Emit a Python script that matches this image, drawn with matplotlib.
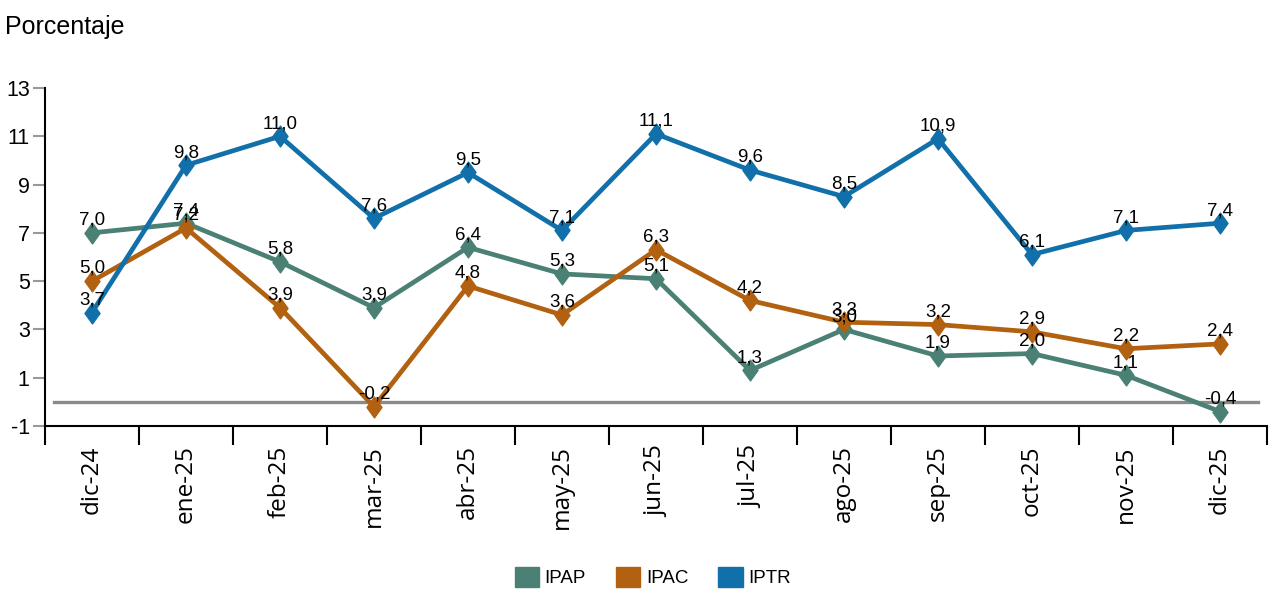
import matplotlib
matplotlib.use("Agg")
import matplotlib.pyplot as plt
from matplotlib.patches import Patch
from matplotlib.path import Path
import numpy as np

months = ["dic-24", "ene-25", "feb-25", "mar-25", "abr-25", "may-25", "jun-25",
          "jul-25", "ago-25", "sep-25", "oct-25", "nov-25", "dic-25"]
ipap = [7.0, 7.4, 5.8, 3.9, 6.4, 5.3, 5.1, 1.3, 3.0, 1.9, 2.0, 1.1, -0.4]
ipac = [5.0, 7.2, 3.9, -0.2, 4.8, 3.6, 6.3, 4.2, 3.3, 3.2, 2.9, 2.2, 2.4]
iptr = [3.7, 9.8, 11.0, 7.6, 9.5, 7.1, 11.1, 9.6, 8.5, 10.9, 6.1, 7.1, 7.4]
series_names = ["IPAP", "IPAC", "IPTR"]
colors = ["#4b8075", "#b1610f", "#1170a9"]
yticks = [-1, 1, 3, 5, 7, 9, 11, 13]

plt.rcParams['font.family'] = ['Liberation Sans', 'DejaVu Sans']

diamond = Path([(0, 1), (0.72, 0), (0, -1), (-0.72, 0), (0, 1)],
               [Path.MOVETO, Path.LINETO, Path.LINETO, Path.LINETO, Path.CLOSEPOLY])

fig = plt.figure(figsize=(12.8, 5.94), dpi=100)
ax = fig.add_axes([45/1280, 1-426/594, (1267-45)/1280, (426-88)/594])

x = np.arange(len(months)) + 0.5
ax.plot([0.1, 12.9], [0, 0], color="#8a8a8a", lw=2.4, zorder=1)

for vals, c in zip([ipap, ipac, iptr], colors):
    ax.plot(x, vals, color=c, lw=3.4, marker=diamond, markersize=15, zorder=3)
    for xi, v in zip(x, vals):
        ax.annotate(f"{v:.1f}".replace(".", ","), (xi, v), xytext=(0, 3),
                    textcoords="offset points", ha="center", va="bottom",
                    fontsize=13.5, color="black", zorder=5)

ax.set_xlim(0, 13)
ax.set_ylim(-1, 13)
ax.set_yticks(yticks)
ax.set_yticklabels([str(t) for t in yticks], fontsize=15.5)
ax.tick_params(axis="y", length=9, width=1.5, color="#999999", pad=2)

ax.set_xticks(x)
ax.set_xticklabels(months, rotation=90, fontsize=17.5, va="top", family="Open Sans")
ax.set_xticks(np.arange(0, 14), minor=True)
ax.tick_params(axis="x", which="major", length=0, pad=14)
ax.tick_params(axis="x", which="minor", length=14, width=1.5, color="black")

for s in ["top", "right"]:
    ax.spines[s].set_visible(False)
ax.spines["left"].set_linewidth(1.5)
ax.spines["bottom"].set_linewidth(1.5)

fig.text(5/1280, 1-27/594, "Porcentaje", fontsize=18, va="center", ha="left")

handles = [Patch(facecolor=c, edgecolor=c) for c in colors]
fig.legend(handles, series_names, loc="center", bbox_to_anchor=(0.51, 1-577/594),
           ncol=3, frameon=False, fontsize=13.5, handlelength=1.3, handleheight=1.3,
           columnspacing=1.6, handletextpad=0.3)

fig.savefig("out.png", dpi=100)
